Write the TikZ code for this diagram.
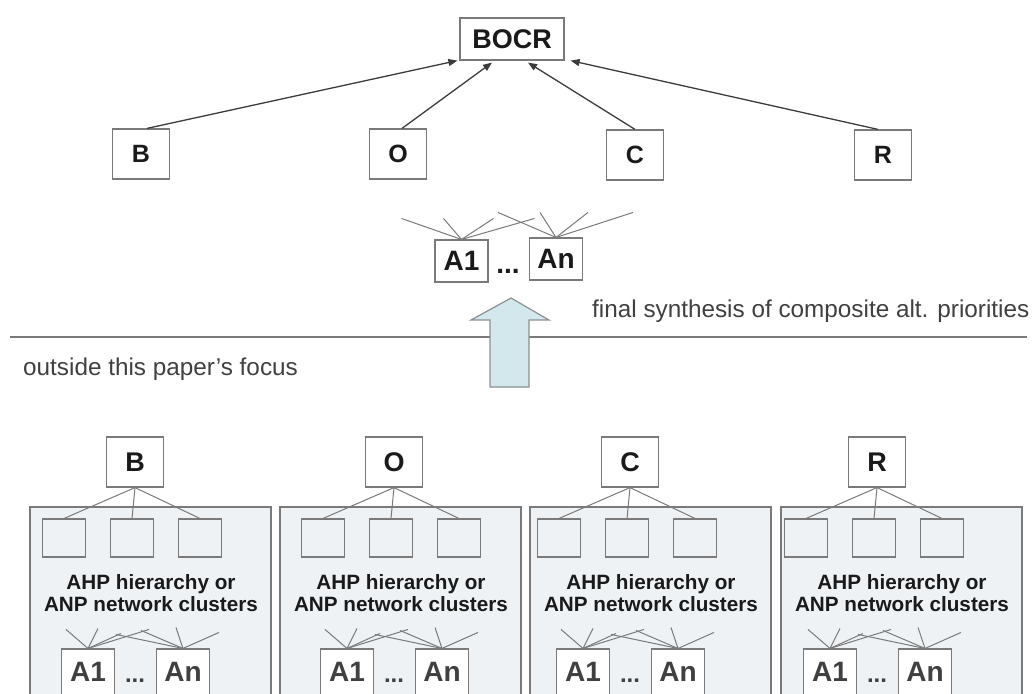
\documentclass[tikz,border=0pt]{standalone}
\usepackage{fontspec}
\setmainfont{Liberation Sans}
\usetikzlibrary{arrows.meta}
\definecolor{boxgray}{HTML}{7A7A7A}
\definecolor{linegray}{HTML}{3C3C3C}
\definecolor{txtdark}{HTML}{1A1A1A}
\definecolor{txtgray}{HTML}{404040}
\definecolor{clusterfill}{HTML}{EEF2F5}
\definecolor{arrowfill}{HTML}{D3E8EC}
\begin{document}
\begin{tikzpicture}[x=1pt, y=-1pt,
    crit/.style={draw=boxgray, line width=1.2pt, fill=white, inner sep=0pt,
        minimum width=57pt, minimum height=50pt, text=txtdark,
        font=\fontsize{25}{25}\selectfont\bfseries},
    subbox/.style={draw=boxgray, line width=1.1pt, fill=clusterfill, inner sep=0pt,
        minimum width=43pt, minimum height=38pt},
    alt/.style={draw=boxgray, line width=1.1pt, fill=white, inner sep=0pt,
        minimum width=53pt, minimum height=42pt, text=txtdark,
        font=\fontsize{28}{28}\selectfont\bfseries},
    link/.style={draw=linegray, line width=1.3pt, -{Triangle[length=9pt,width=7pt]}},
    fan/.style={draw=boxgray, line width=1pt},
    cluster/.style={draw=boxgray, line width=1.2pt, fill=clusterfill},
    note/.style={inner sep=0pt, text=txtgray, font=\fontsize{24.3}{28}\selectfont}]

\path[use as bounding box, clip] (0,0) rectangle (1035,693);

% goal and the four merits
\node[crit, minimum width=104pt, minimum height=42pt,
      font=\fontsize{27}{27}\selectfont\bfseries] (bocr) at (512,39) {BOCR};
\node[crit] (b) at (141,154) {B};
\node[crit] (o) at (398,154) {O};
\node[crit] (c) at (635,155) {C};
\node[crit] (r) at (883,155) {R};

\draw[link] ([xshift=6pt]b.north) -- ([xshift=-2pt]bocr.south west);
\draw[link] ([xshift=4pt]o.north) -- ([xshift=-20pt,yshift=-2pt]bocr.south);
\draw[link] (c.north) -- ([xshift=16pt,yshift=-2pt]bocr.south);
\draw[link] ([xshift=-5pt]r.north) -- ([xshift=6pt]bocr.south east);

% alternatives
\node[alt] (a1) at (461.5,261) {A1};
\node[alt] (an) at (556,259) {An};
\node[inner sep=0pt, anchor=base, text=txtdark,
      font=\fontsize{28}{28}\selectfont\bfseries] (adots) at (508,273) {...};
\foreach \dx/\dy in {-60/21, -18/21, 32/21, 73/21}
    \draw[fan] (a1.north) -- ++(\dx,-\dy);
\foreach \dx/\dy in {-58/25, -16/25, 32/25, 77/25}
    \draw[fan] (an.north) -- ++(\dx,-\dy);

% separator and synthesis arrow
\draw[draw=boxgray, line width=1.5pt] (10,337) -- (1027,337);
\draw[draw=boxgray!80!arrowfill, line width=1.2pt, fill=arrowfill]
    (511,298) -- (549,320) -- (529,320) -- (529,387)
    -- (490,387) -- (490,320) -- (471,320) -- cycle;
\node[note, anchor=base west] (synth) at (592,317) {final synthesis of composite alt. priorities};
\node[note, anchor=base west] (focus) at (23,375) {outside this paper's focus};

% the four sub-models
\foreach \n/\cx/\hx/\lab in {cb/30/135/B, co/280/394/O, cc/530/630/C, cr/781/877/R} {
    \draw[cluster] (\cx,507) rectangle ++(241,220);
    \node[crit, font=\fontsize{27}{27}\selectfont\bfseries] (\n-hd) at (\hx,462) {\lab};
    \node[subbox] (\n-s1) at (\hx-71,538) {};
    \node[subbox] (\n-s2) at (\hx-3,538) {};
    \node[subbox] (\n-s3) at (\hx+65,538) {};
    \foreach \k in {1,2,3}
        \draw[fan] (\n-hd.south) -- (\n-s\k.north);
    \node[align=center, inner sep=0pt, text=txtdark,
          font=\fontsize{20.7}{22}\selectfont\bfseries] (\n-txt) at (\cx+121,593)
          {AHP hierarchy or\\ANP network clusters};
    \node[alt, minimum height=46pt, text=txtgray] (\n-a1) at (\hx-47,672) {A1};
    \node[alt, minimum height=46pt, text=txtgray] (\n-an) at (\hx+48,672) {An};
    \node[inner sep=0pt, anchor=base, text=txtgray,
          font=\fontsize{24}{24}\selectfont\bfseries] (\n-dots) at (\hx,682) {...};
    \foreach \dx/\dy in {-22/19, 10/20, 33/15, 61/19}
        \draw[fan] (\n-a1.north) -- ++(\dx,-\dy);
    \foreach \dx/\dy in {-42/18, -67/14, -7/21, 36/16}
        \draw[fan] (\n-an.north) -- ++(\dx,-\dy);
}
\end{tikzpicture}
\end{document}
